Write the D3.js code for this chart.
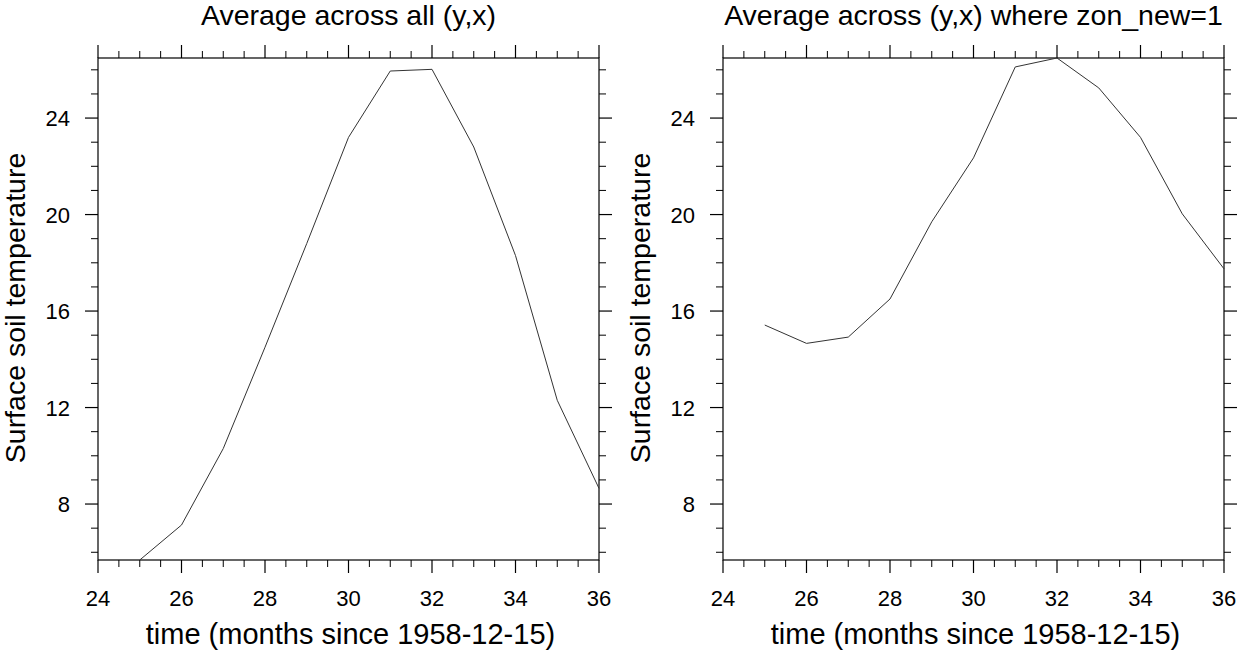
<!DOCTYPE html>
<html>
<head>
<meta charset="utf-8">
<script src="https://cdn.jsdelivr.net/npm/d3@7"></script>
<style>
  body { margin: 0; background: #fff; }
  text { font-family: "Liberation Sans", Arial, Helvetica, sans-serif; fill: #000; }
</style>
</head>
<body>
<svg id="chart" width="1239" height="652"></svg>
<script>
// months since 1958-12-15
const months = [25, 26, 27, 28, 29, 30, 31, 32, 33, 34, 35, 36];
// surface soil temperature, average across all (y,x)
const tempAll = [5.68, 7.13, 10.3, 14.5, 18.8, 23.2, 25.95, 26.02, 22.8, 18.3, 12.3, 8.65];
// surface soil temperature, average where zon_new=1
const tempZon = [15.42, 14.66, 14.92, 16.5, 19.7, 22.35, 26.12, 26.49, 25.25, 23.2, 20.03, 17.75];
const xTicks = [24, 26, 28, 30, 32, 34, 36];
const yTicks = [8, 12, 16, 20, 24];
const titles = ["Average across all (y,x)", "Average across (y,x) where zon_new=1"];

const svg = d3.select("#chart");
const plotTop = 58, plotBottom = 560;
const yMin = 5.68, yMax = 26.49;

const panels = [
  { left: 98, right: 599, data: tempAll, title: titles[0] },
  { left: 723, right: 1224, data: tempZon, title: titles[1] }
];

panels.forEach(p => {
  const x = d3.scaleLinear().domain([24, 36]).range([p.left, p.right]);
  const y = d3.scaleLinear().domain([yMin, yMax]).range([plotBottom, plotTop]);
  const g = svg.append("g");

  // minor ticks
  const xMinor = d3.range(24, 36.01, 0.5).filter(v => v % 2 != 0);
  const yMinor = d3.range(6, 26.5, 1).filter(v => v % 4 != 0);

  g.selectAll(".xminor").data(xMinor).enter().append("g").each(function(v) {
    const s = d3.select(this);
    s.append("line").attr("x1", x(v)).attr("x2", x(v)).attr("y1", plotBottom).attr("y2", plotBottom + 7);
    s.append("line").attr("x1", x(v)).attr("x2", x(v)).attr("y1", plotTop).attr("y2", plotTop - 7);
  }).selectAll("line").style("stroke", "#000").style("stroke-width", 1);

  g.selectAll(".yminor").data(yMinor).enter().append("g").each(function(v) {
    const s = d3.select(this);
    s.append("line").attr("x1", p.left).attr("x2", p.left - 7).attr("y1", y(v)).attr("y2", y(v));
    s.append("line").attr("x1", p.right).attr("x2", p.right + 7).attr("y1", y(v)).attr("y2", y(v));
  }).selectAll("line").style("stroke", "#000").style("stroke-width", 1);

  // major ticks
  g.selectAll(".xmajor").data(xTicks).enter().append("g").each(function(v) {
    const s = d3.select(this);
    s.append("line").attr("x1", x(v)).attr("x2", x(v)).attr("y1", plotBottom).attr("y2", plotBottom + 13);
    s.append("line").attr("x1", x(v)).attr("x2", x(v)).attr("y1", plotTop).attr("y2", plotTop - 13);
  }).selectAll("line").style("stroke", "#000").style("stroke-width", 1.2);

  g.selectAll(".ymajor").data(yTicks).enter().append("g").each(function(v) {
    const s = d3.select(this);
    s.append("line").attr("x1", p.left).attr("x2", p.left - 13).attr("y1", y(v)).attr("y2", y(v));
    s.append("line").attr("x1", p.right).attr("x2", p.right + 13).attr("y1", y(v)).attr("y2", y(v));
  }).selectAll("line").style("stroke", "#000").style("stroke-width", 1.2);

  // frame
  g.append("rect")
    .attr("x", p.left).attr("y", plotTop)
    .attr("width", p.right - p.left).attr("height", plotBottom - plotTop)
    .style("fill", "none").style("stroke", "#000").style("stroke-width", 1.2);

  // tick labels
  g.selectAll(".xlab").data(xTicks).enter().append("text")
    .attr("x", d => x(d)).attr("y", plotBottom + 46)
    .attr("text-anchor", "middle")
    .style("font-size", "22px")
    .text(d => d);

  g.selectAll(".ylab").data(yTicks).enter().append("text")
    .attr("x", p.left - 28).attr("y", d => y(d) + 8)
    .attr("text-anchor", "end")
    .style("font-size", "22px")
    .text(d => d);

  // axis titles
  g.append("text")
    .attr("x", (p.left + p.right) / 2 + 2).attr("y", plotBottom + 84)
    .attr("text-anchor", "middle")
    .style("font-size", "29px")
    .text("time (months since 1958-12-15)");

  g.append("text")
    .attr("transform", "translate(" + (p.left - 73) + "," + ((plotTop + plotBottom) / 2 - 1) + ") rotate(-90)")
    .attr("text-anchor", "middle")
    .style("font-size", "28.5px")
    .text("Surface soil temperature");

  g.append("text")
    .attr("x", (p.left + p.right) / 2).attr("y", 25)
    .attr("text-anchor", "middle")
    .style("font-size", "28.5px")
    .text(p.title);

  // data line
  const line = d3.line()
    .x((d, i) => x(months[i]))
    .y(d => y(d));

  g.append("path")
    .datum(p.data)
    .attr("d", line)
    .style("fill", "none")
    .style("stroke", "#333")
    .style("stroke-width", 1);
});
</script>
</body>
</html>
